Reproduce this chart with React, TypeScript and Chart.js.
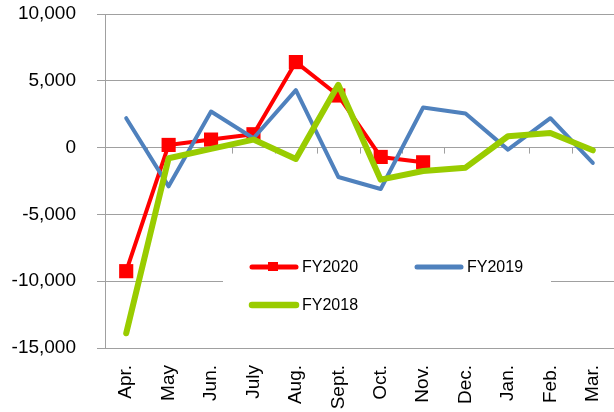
import React, { useEffect, useRef } from "react";
import { Chart, registerables } from "chart.js";

Chart.register(...registerables);

const months = ["Apr.", "May", "Jun.", "July", "Aug.", "Sept.", "Oct.", "Nov.", "Dec.", "Jan.", "Feb.", "Mar."];
const fy2020 = [-9250, 200, 600, 1000, 6400, 3900, -700, -1100, null, null, null, null];
const fy2019 = [2200, -2900, 2700, 700, 4300, -2200, -3100, 3000, 2550, -150, 2200, -1150];
const fy2018 = [-13900, -800, -100, 600, -850, 4700, -2400, -1750, -1500, 850, 1100, -200];
const seriesNames = ["FY2020", "FY2019", "FY2018"];
const yMin = -15000;
const yMax = 10000;
const yStep = 5000;

const RED = "#FF0000";
const BLUE = "#4F81BD";
const GREEN = "#99CC00";
const GRID = "#A0A0A0";
const FONT = "'Liberation Sans', Arial, sans-serif";

const zeroTicksPlugin = {
  id: "zeroTicks",
  beforeDatasetsDraw(chart: any) {
    const { ctx, chartArea } = chart;
    const y0 = chart.scales.y.getPixelForValue(0);
    const n = months.length;
    const w = (chartArea.right - chartArea.left) / n;
    ctx.save();
    ctx.strokeStyle = GRID;
    ctx.lineWidth = 1;
    ctx.beginPath();
    for (let k = 1; k <= n; k++) {
      const x = Math.round(chartArea.left + k * w) + 0.5;
      ctx.moveTo(x, y0);
      ctx.lineTo(x, y0 + 6);
    }
    ctx.stroke();
    ctx.restore();
  },
};

const legendPlugin = {
  id: "customLegend",
  afterDatasetsDraw(chart: any) {
    const { ctx } = chart;
    ctx.save();
    ctx.fillStyle = "#FFFFFF";
    ctx.fillRect(223, 249, 328, 72);
    const items = [
      { name: seriesNames[0], color: RED, lw: 5, marker: true, x: 250, y: 267 },
      { name: seriesNames[1], color: BLUE, lw: 5, marker: false, x: 415, y: 267 },
      { name: seriesNames[2], color: GREEN, lw: 6.5, marker: false, x: 250, y: 305 },
    ];
    ctx.font = `16px ${FONT}`;
    ctx.textBaseline = "middle";
    ctx.textAlign = "left";
    for (const it of items) {
      ctx.strokeStyle = it.color;
      ctx.lineWidth = it.lw;
      ctx.lineCap = "round";
      ctx.beginPath();
      ctx.moveTo(it.x + 2, it.y);
      ctx.lineTo(it.x + 46, it.y);
      ctx.stroke();
      if (it.marker) {
        ctx.fillStyle = it.color;
        ctx.fillRect(it.x + 18, it.y - 5, 10, 9);
      }
      ctx.fillStyle = "#000000";
      ctx.fillText(it.name, it.x + 52, it.y + 1);
    }
    ctx.restore();
  },
};

export default function App() {
  const ref = useRef<HTMLCanvasElement | null>(null);
  useEffect(() => {
    if (!ref.current) return;
    const chart = new Chart(ref.current, {
      type: "line",
      data: {
        labels: months,
        datasets: [
          {
            label: seriesNames[0],
            data: fy2020,
            borderColor: RED,
            backgroundColor: RED,
            borderWidth: 4,
            pointStyle: "rect",
            pointRadius: 10,
            pointBorderWidth: 0,
            pointBackgroundColor: RED,
            borderJoinStyle: "round",
            borderCapStyle: "round",
            spanGaps: false,
            order: 3,
          },
          {
            label: seriesNames[1],
            data: fy2019,
            borderColor: BLUE,
            backgroundColor: BLUE,
            borderWidth: 4,
            pointRadius: 0,
            borderJoinStyle: "round",
            borderCapStyle: "round",
            order: 2,
          },
          {
            label: seriesNames[2],
            data: fy2018,
            borderColor: GREEN,
            backgroundColor: GREEN,
            borderWidth: 6,
            pointRadius: 0,
            borderJoinStyle: "round",
            borderCapStyle: "round",
            order: 1,
          },
        ],
      },
      options: {
        responsive: false,
        animation: false,
        layout: { autoPadding: false, padding: { top: 14, right: 0, bottom: 0, left: 0 } },
        plugins: {
          legend: { display: false },
          tooltip: { enabled: false },
        },
        scales: {
          x: {
            offset: true,
            grid: { display: false, drawTicks: false },
            border: { display: false },
            ticks: {
              minRotation: 90,
              maxRotation: 90,
              autoSkip: false,
              padding: 17,
              color: "#000",
              font: { family: FONT, size: 19 },
            },
            afterFit: (scale: any) => {
              scale.height = 64;
              scale.paddingLeft = 0;
              scale.paddingRight = 0;
              scale.paddingTop = 0;
              scale.paddingBottom = 0;
            },
          },
          y: {
            min: yMin,
            max: yMax,
            grid: { color: GRID, lineWidth: 1, tickLength: 8, drawTicks: true },
            border: { display: true, color: GRID, width: 1 },
            ticks: {
              stepSize: yStep,
              padding: 21,
              color: "#000",
              font: { family: FONT, size: 19 },
              callback: (v: any) => Number(v).toLocaleString("en-US"),
            },
            afterFit: (scale: any) => {
              scale.width = 105;
              scale.paddingTop = 0;
              scale.paddingBottom = 0;
              scale.paddingLeft = 0;
              scale.paddingRight = 0;
            },
          },
        },
      },
      plugins: [zeroTicksPlugin, legendPlugin],
    });
    return () => chart.destroy();
  }, []);
  return (
    <div style={{ position: "absolute", left: 0, top: 0, width: 614, height: 412, background: "#fff" }}>
      <canvas ref={ref} width={614} height={412} />
    </div>
  );
}
